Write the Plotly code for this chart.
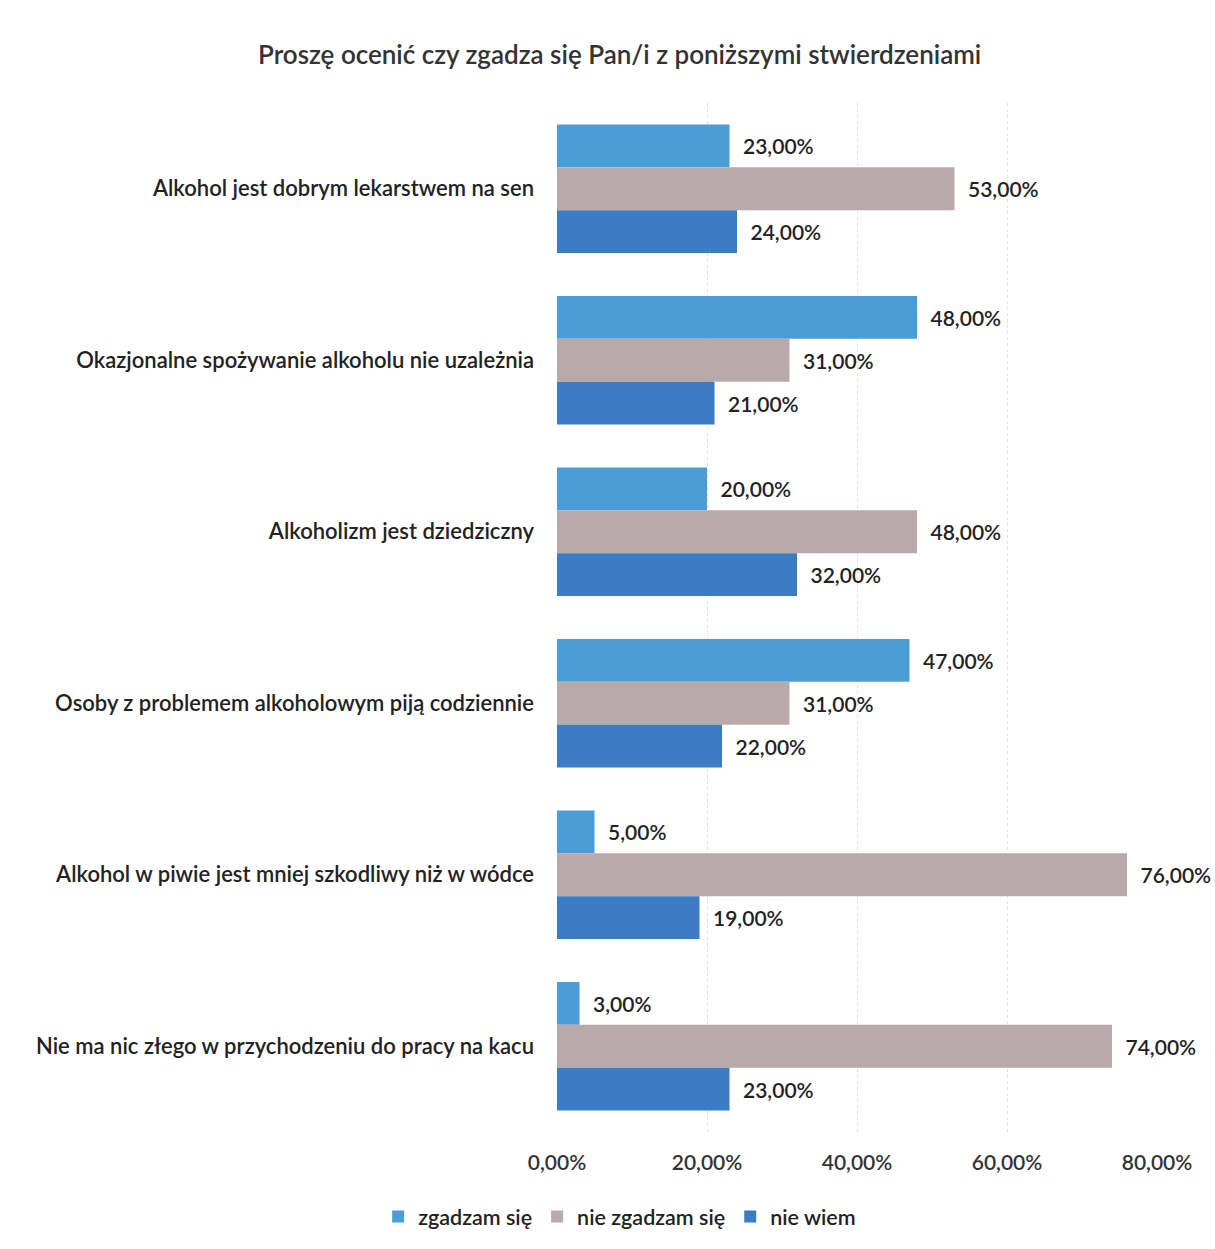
import plotly.graph_objects as go

# Survey statements (top to bottom)
statements = [
    "Alkohol jest dobrym lekarstwem na sen",
    "Okazjonalne spożywanie alkoholu nie uzależnia",
    "Alkoholizm jest dziedziczny",
    "Osoby z problemem alkoholowym piją codziennie",
    "Alkohol w piwie jest mniej szkodliwy niż w wódce",
    "Nie ma nic złego w przychodzeniu do pracy na kacu",
]

# Answer shares (fractions)
zgadzam = [0.23, 0.48, 0.20, 0.47, 0.05, 0.03]
nie_zgadzam = [0.53, 0.31, 0.48, 0.31, 0.76, 0.74]
nie_wiem = [0.24, 0.21, 0.32, 0.22, 0.19, 0.23]

series_names = ["zgadzam się", "nie zgadzam się", "nie wiem"]
series_values = [zgadzam, nie_zgadzam, nie_wiem]
series_colors = ["#4a9dd6", "#b9a9ab", "#3b7cc4"]

x_ticks = [0, 0.2, 0.4, 0.6, 0.8]

FONT = "Lato"
WEIGHT = 600

fig = go.Figure()
for name, vals, col in zip(series_names, series_values, series_colors):
    fig.add_trace(go.Bar(
        y=statements,
        x=vals,
        name=name,
        orientation="h",
        marker=dict(color=col, line=dict(width=0)),
        texttemplate="\u2002%{x:.2%}",
        textposition="outside",
        textfont=dict(family=FONT, size=21, color="#222222", weight=WEIGHT),
        cliponaxis=False,
    ))

fig.update_layout(
    width=1215,
    height=1249,
    paper_bgcolor="white",
    plot_bgcolor="white",
    separators=", ",
    barmode="group",
    bargap=0.25,
    bargroupgap=0,
    margin=dict(l=557, r=58, t=103, b=117),
    title=dict(
        text="Proszę ocenić czy zgadza się Pan/i z poniższymi stwierdzeniami",
        x=0.51,
        xanchor="center",
        y=0.956,
        yanchor="middle",
        font=dict(family=FONT, size=26, color="#333333", weight=WEIGHT),
    ),
    font=dict(family=FONT, size=21, color="#222222", weight=WEIGHT),
    legend=dict(
        orientation="h",
        xref="container",
        yref="container",
        x=0.51,
        xanchor="center",
        y=0.026,
        yanchor="middle",
        font=dict(family=FONT, size=21.5, color="#222222", weight=WEIGHT),
        itemwidth=30,
        traceorder="normal",
    ),
    showlegend=True,
)

fig.update_xaxes(
    range=[0, 0.8],
    tickvals=x_ticks,
    tickformat=".2%",
    showgrid=True,
    gridcolor="#e2e2e2",
    griddash="dot",
    zeroline=False,
    showline=False,
    ticks="",
    ticklabelstandoff=16,
    tickfont=dict(family=FONT, size=21, color="#333333", weight=WEIGHT),
)

fig.update_yaxes(
    autorange="reversed",
    showgrid=False,
    zeroline=False,
    showline=False,
    ticks="",
    ticklabelstandoff=22,
    tickfont=dict(family=FONT, size=22, color="#222222", weight=WEIGHT),
)

fig.write_html("out.html")
